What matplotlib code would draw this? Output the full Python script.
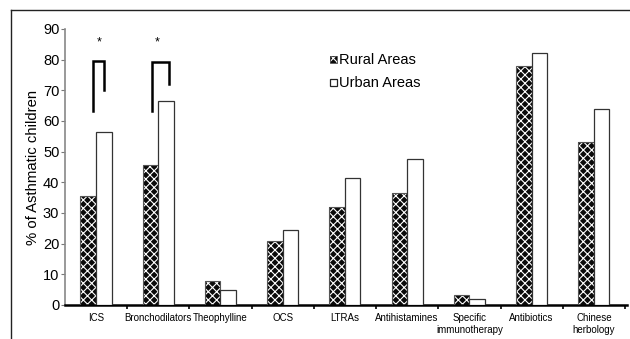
import numpy as np
import matplotlib.pyplot as plt
from matplotlib.lines import Line2D

plt.rcParams['font.family'] = ['Liberation Sans', 'DejaVu Sans']
plt.rcParams['hatch.linewidth'] = 0.8

# medication use by area
categories = ["ICS", "Bronchodilators", "Theophylline", "OCS", "LTRAs",
              "Antihistamines", "Specific\nimmunotherapy", "Antibiotics",
              "Chinese\nherbology"]
rural = [35.5, 45.5, 7.8, 21.0, 32.0, 36.5, 3.2, 77.8, 53.3]
urban = [56.5, 66.5, 5.0, 24.5, 41.5, 47.5, 2.0, 82.3, 64.0]

# significance brackets: (left x, right x, top, left foot, right foot)
brackets = [(-0.05, 0.13, 79.6, 63.3, 70.0),
            (0.90, 1.18, 79.3, 63.3, 72.0)]
stars = [(0.05, 85.5), (0.98, 85.5)]

fig = plt.figure(figsize=(6.3, 3.39), dpi=100)
ax = fig.add_axes([0.103, 0.1003, 0.892, 0.8142])

x = np.arange(len(categories))
w = 0.25

# rural bars: white cross hatch on black, outline drawn on top
ax.bar(x - w / 2, rural, w, color="#0a0a0a", edgecolor="white",
       hatch="xxxx", linewidth=0, zorder=2)
ax.bar(x - w / 2, rural, w, fill=False, edgecolor="#555555",
       linewidth=0.8, zorder=3)
ax.bar(x + w / 2, urban, w, color="white", edgecolor="#333333",
       linewidth=0.9, zorder=3)

for x0, x1, top, yl, yr in brackets:
    ax.plot([x0, x0, x1, x1], [yl, top, top, yr], color="black",
            lw=1.8, solid_joinstyle="miter", zorder=4)
for sx, sy in stars:
    ax.text(sx, sy, "*", ha="center", va="center", fontsize=9)

# legend drawn as marker + label
ax.bar(3.81, 2.3, 0.11, bottom=78.8, color="#0a0a0a", edgecolor="white",
       hatch="xxxx", linewidth=0, zorder=2)
ax.bar(3.81, 2.3, 0.11, bottom=78.8, fill=False, edgecolor="#444444",
       linewidth=0.6, zorder=3)
ax.bar(3.81, 2.3, 0.11, bottom=71.3, color="white", edgecolor="#222222",
       linewidth=0.9, zorder=3)
ax.text(3.9, 80.0, "Rural Areas", va="center", fontsize=10.5)
ax.text(3.9, 72.5, "Urban Areas", va="center", fontsize=10.5)

ax.set_xlim(-0.5, 8.53)
ax.set_ylim(0, 90)
ax.set_yticks(np.arange(0, 91, 10))
ax.tick_params(axis="y", labelsize=10.5, length=3, width=0.8,
               color="#777777", pad=1)
ax.set_xticks(x)
ax.set_xticklabels(categories, fontsize=7)
ax.tick_params(axis="x", length=0, pad=6)
ax.set_xticks(np.arange(0.5, 9, 1), minor=True)
ax.tick_params(axis="x", which="minor", length=3, width=1.2,
               direction="out", color="black")
ax.set_ylabel("% of Asthmatic children", fontsize=10.7, labelpad=2)

for s in ["top", "right"]:
    ax.spines[s].set_visible(False)
ax.spines["left"].set_color("#888888")
ax.spines["left"].set_linewidth(1.2)
ax.spines["bottom"].set_linewidth(1.8)

# outer frame lines
fig.add_artist(Line2D([11 / 630, 1], [1 - 10 / 339, 1 - 10 / 339],
                      color="#222222", lw=1.0))
fig.add_artist(Line2D([11 / 630, 11 / 630], [0, 1 - 10 / 339],
                      color="#222222", lw=1.0))

fig.savefig("out.png", dpi=100)
